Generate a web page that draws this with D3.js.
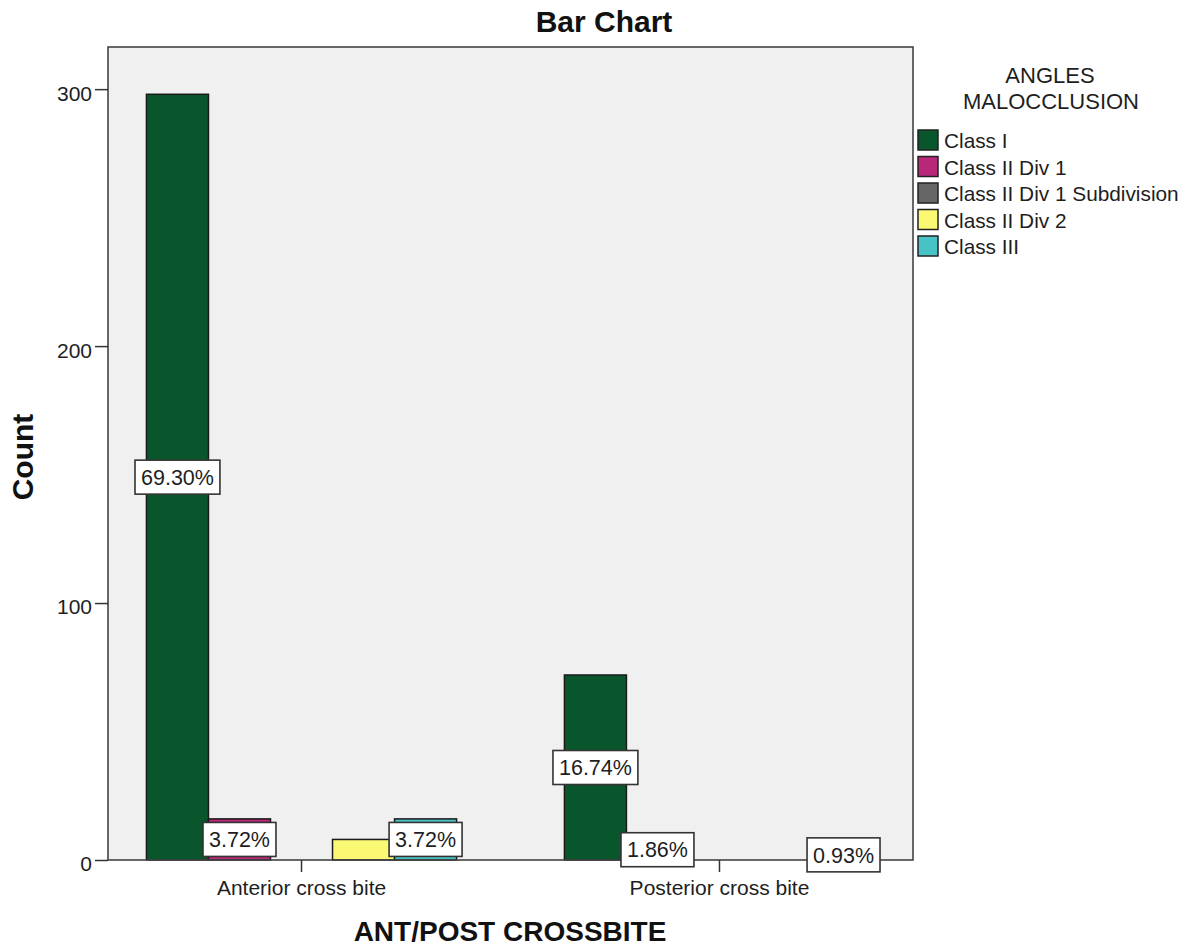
<!DOCTYPE html>
<html>
<head>
<meta charset="utf-8">
<script src="https://cdn.jsdelivr.net/npm/d3@7"></script>
<style>
  html, body { margin: 0; padding: 0; background: #fff; }
  svg { display: block; font-family: Arial, "Liberation Sans", sans-serif; }
</style>
</head>
<body>
<svg id="chart" width="1186" height="949"></svg>
<script>
// ---- data ----
const categories = ["Anterior cross bite", "Posterior cross bite"];
const seriesNames = ["Class I", "Class II Div 1", "Class II Div 1 Subdivision", "Class II Div 2", "Class III"];
const seriesColors = ["#0A562C", "#B92779", "#666666", "#FBF873", "#48C2C5"];
// counts per series: [anterior, posterior]
const classI = [298, 72];
const classIIDiv1 = [16, 8];
const classIIDiv1Sub = [0, 0];
const classIIDiv2 = [8, 0];
const classIII = [16, 4];
// percentage labels shown on bars (null = not shown)
const labelsClassI = ["69.30%", "16.74%"];
const labelsClassIIDiv1 = ["3.72%", "1.86%"];
const labelsClassIIDiv1Sub = [null, null];
const labelsClassIIDiv2 = [null, null];
const labelsClassIII = ["3.72%", "0.93%"];
const yTicks = [0, 100, 200, 300];

const seriesValues = [classI, classIIDiv1, classIIDiv1Sub, classIIDiv2, classIII];
const seriesLabels = [labelsClassI, labelsClassIIDiv1, labelsClassIIDiv1Sub, labelsClassIIDiv2, labelsClassIII];

const rows = [];
categories.forEach((c, ci) => {
  seriesNames.forEach((s, si) => {
    rows.push({ cat: c, series: s, si, value: seriesValues[si][ci], label: seriesLabels[si][ci] });
  });
});

// ---- layout ----
const svg = d3.select("#chart");
const plot = { left: 108, top: 47, right: 913, bottom: 860 };
const textColor = "#1e1e1e";

const x = d3.scaleBand().domain(categories).range([plot.left, plot.right])
  .paddingInner(0.258).paddingOuter(0.092);
const xs = d3.scaleBand().domain(seriesNames).range([0, x.bandwidth()]).padding(0);
const y = d3.scaleLinear().domain([0, 316.4]).range([plot.bottom, plot.top]);
const color = d3.scaleOrdinal().domain(seriesNames).range(seriesColors);

// plot background
svg.append("rect")
  .attr("x", plot.left).attr("y", plot.top)
  .attr("width", plot.right - plot.left).attr("height", plot.bottom - plot.top)
  .attr("fill", "#F0F0F0");

// bars
svg.append("g").selectAll("rect")
  .data(rows.filter(d => d.value > 0))
  .join("rect")
  .attr("x", d => x(d.cat) + xs(d.series))
  .attr("y", d => y(d.value))
  .attr("width", xs.bandwidth())
  .attr("height", d => y(0) - y(d.value))
  .attr("fill", d => color(d.series))
  .attr("stroke", "#1a1a1a")
  .attr("stroke-width", 1.5);

// frame
svg.append("rect")
  .attr("x", plot.left).attr("y", plot.top)
  .attr("width", plot.right - plot.left).attr("height", plot.bottom - plot.top)
  .attr("fill", "none").attr("stroke", "#444").attr("stroke-width", 1.6);

// y axis
const yAxis = d3.axisLeft(y).tickValues(yTicks).tickSize(13).tickPadding(3);
const gy = svg.append("g").attr("transform", `translate(${plot.left},0)`).call(yAxis);
gy.select(".domain").remove();
gy.selectAll(".tick line").attr("stroke", "#333").attr("stroke-width", 1.5);
gy.selectAll(".tick text").attr("fill", textColor).attr("font-size", 21)
  .attr("font-family", "Arial, 'Liberation Sans', sans-serif").attr("dy", "0.52em");

// x axis
const xAxis = d3.axisBottom(x).tickSize(12).tickPadding(8);
const gx = svg.append("g").attr("transform", `translate(0,${plot.bottom})`).call(xAxis);
gx.select(".domain").remove();
gx.selectAll(".tick line").attr("stroke", "#333").attr("stroke-width", 1.5);
gx.selectAll(".tick text").attr("fill", textColor).attr("font-size", 21)
  .attr("font-family", "Arial, 'Liberation Sans', sans-serif");

// data labels
const lab = svg.append("g").selectAll("g")
  .data(rows.filter(d => d.label))
  .join("g")
  .attr("transform", d => `translate(${x(d.cat) + xs(d.series) + xs.bandwidth() / 2},${y(d.value / 2)})`);
lab.append("rect").attr("class", "lb");
lab.append("text")
  .attr("text-anchor", "middle").attr("dy", "0.36em")
  .attr("font-size", 21.5).attr("fill", textColor)
  .text(d => d.label);
lab.each(function() {
  const g = d3.select(this);
  const bb = g.select("text").node().getBBox();
  g.select("rect.lb")
    .attr("x", -bb.width / 2 - 6).attr("y", -17)
    .attr("width", bb.width + 12).attr("height", 34)
    .attr("fill", "#fff").attr("stroke", "#333").attr("stroke-width", 1.6);
});

// title
svg.append("text").attr("x", 604).attr("y", 32).attr("text-anchor", "middle")
  .attr("font-size", 30).attr("font-weight", "bold").attr("fill", "#111").text("Bar Chart");

// axis titles
svg.append("text").attr("x", 510).attr("y", 941).attr("text-anchor", "middle")
  .attr("font-size", 28).attr("font-weight", "bold").attr("fill", "#111").text("ANT/POST CROSSBITE");
svg.append("text").attr("transform", "translate(33,457) rotate(-90)").attr("text-anchor", "middle")
  .attr("font-size", 30).attr("font-weight", "bold").attr("fill", "#111").text("Count");

// legend
const legTitle = svg.append("text").attr("text-anchor", "middle").attr("font-size", 22).attr("fill", textColor);
legTitle.append("tspan").attr("x", 1050).attr("y", 83).text("ANGLES");
legTitle.append("tspan").attr("x", 1051).attr("y", 109).text("MALOCCLUSION");

const leg = svg.append("g").selectAll("g").data(seriesNames).join("g")
  .attr("transform", (d, i) => `translate(918,${130 + i * 26.5})`);
leg.append("rect").attr("width", 20).attr("height", 20)
  .attr("fill", d => color(d)).attr("stroke", "#222").attr("stroke-width", 1.5);
leg.append("text").attr("x", 26).attr("y", 18).attr("font-size", 20.8).attr("fill", textColor).text(d => d);
</script>
</body>
</html>
